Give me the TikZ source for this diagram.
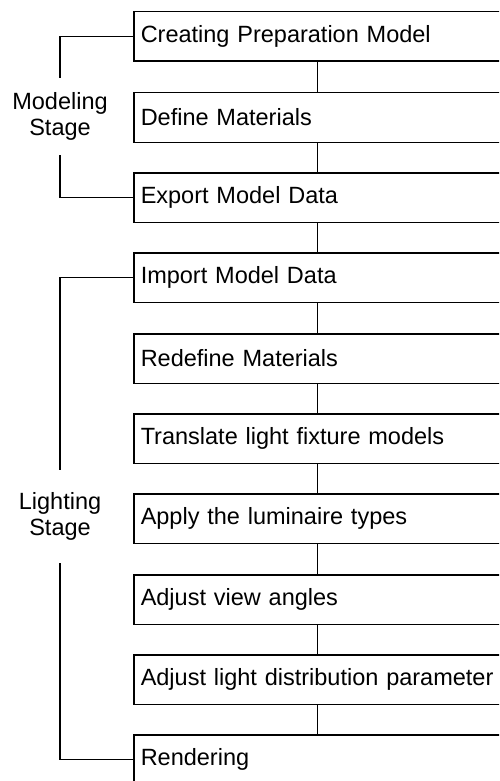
\documentclass[tikz,border=0pt]{standalone}
\usepackage{fontspec}
\setmainfont{Liberation Sans}
\begin{document}
\begin{tikzpicture}[x=1pt,y=-1pt,
  stepbox/.style={draw, line width=1.5pt, rectangle, anchor=north west,
    minimum height=49.5pt, text width=353pt, inner xsep=7pt, inner ysep=0pt,
    align=left, font=\fontsize{23.5}{26}\selectfont},
  stagelabel/.style={align=center, inner xsep=0pt, font=\fontsize{23.5}{26.5}\selectfont},
  link/.style={line width=1.2pt}]
\useasboundingbox (0,0) rectangle (499,781);
\clip (0,0) rectangle (499,781);
\node[stepbox] (b1) at (133,11) {Creating Preparation Model};
\node[stepbox] (b2) at (133,92) {Define Materials};
\node[stepbox] (b3) at (133,172) {Export Model Data};
\node[stepbox] (b4) at (133,252) {Import Model Data};
\node[stepbox] (b5) at (133,333) {Redefine Materials};
\node[stepbox] (b6) at (133,413) {Translate light fixture models};
\node[stepbox] (b7) at (133,493) {Apply the luminaire types};
\node[stepbox] (b8) at (133,574) {Adjust view angles};
\node[stepbox] (b9) at (133,654) {Adjust light distribution parameter};
\node[stepbox] (b10) at (133,734) {Rendering};
\foreach \a/\b in {b1/b2,b2/b3,b3/b4,b4/b5,b5/b6,b6/b7,b7/b8,b8/b9,b9/b10}
  \draw[link] (\a.south) -- (\b.north);
\node[stagelabel, inner ysep=14.5pt] (mlab) at (60,116.5) {Modeling\\Stage};
\node[stagelabel, inner ysep=22.5pt] (llab) at (60,516.5) {Lighting\\Stage};
\draw[link] (b1.west) -| (mlab.north);
\draw[link] (mlab.south) |- (b3.west);
\draw[link] (b4.west) -| (llab.north);
\draw[link] (llab.south) |- (b10.west);
\end{tikzpicture}
\end{document}
